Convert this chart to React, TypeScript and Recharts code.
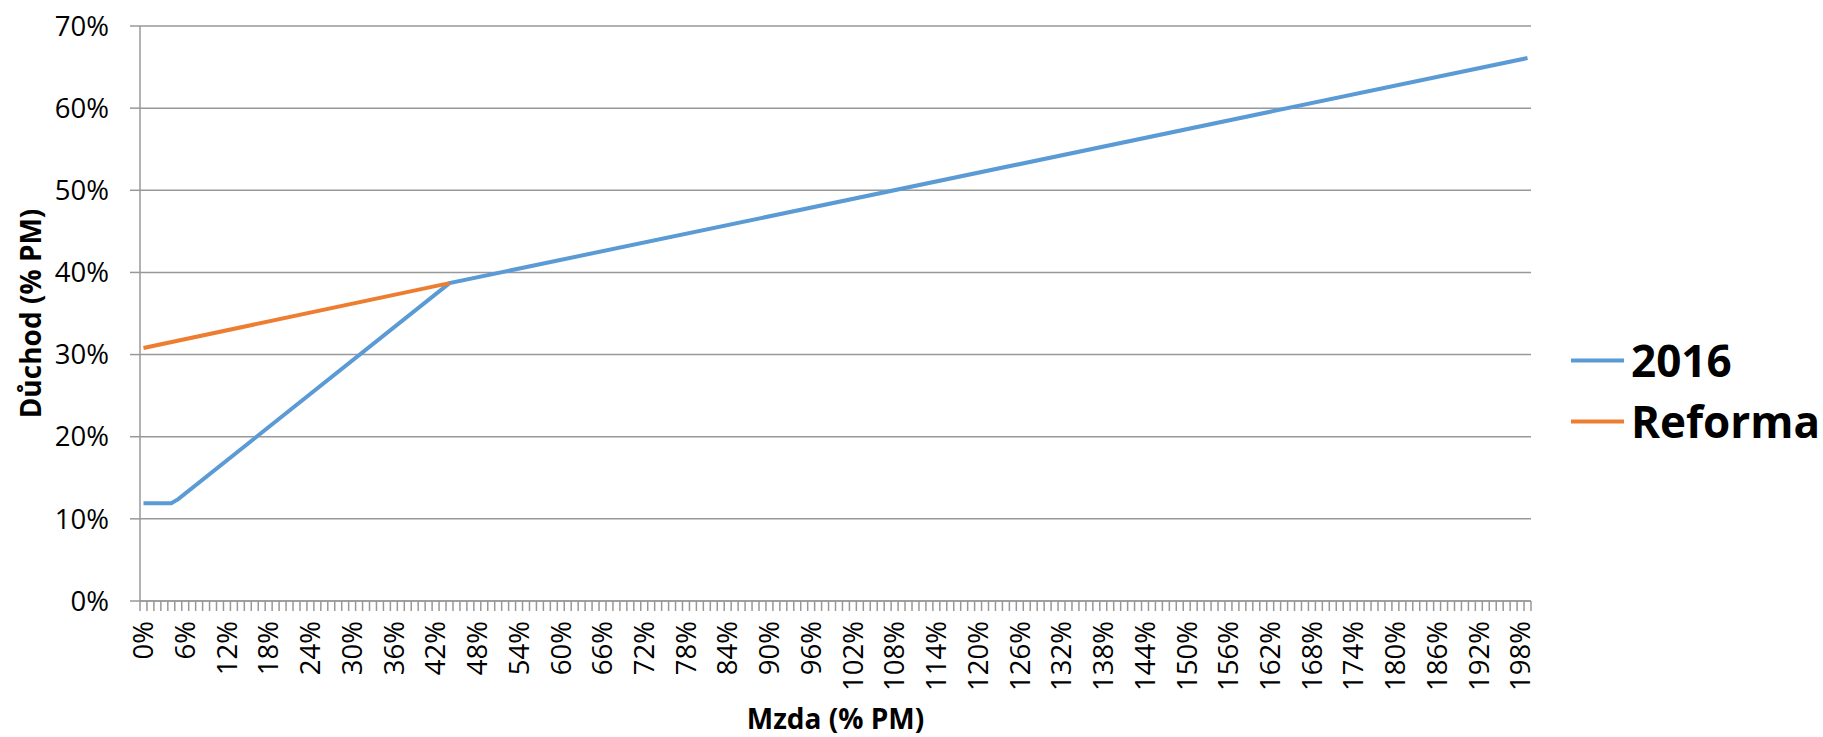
import React from 'react'
import {
  LineChart,
  Line,
  XAxis,
  YAxis,
  CartesianGrid,
  Legend,
} from 'recharts'

// wage (% of average wage) -> pension (% of average wage), read at the kinks
const wage2016 = [0, 4, 5, 44, 199]
const pension2016 = [11.9, 11.9, 12.4, 38.7, 66.1]
const wageReforma = [0, 44]
const pensionReforma = [30.8, 38.7]

const seriesNames = ['2016', 'Reforma']
const xLabelTicks = [
  0, 6, 12, 18, 24, 30, 36, 42, 48, 54, 60, 66, 72, 78, 84, 90, 96, 102, 108,
  114, 120, 126, 132, 138, 144, 150, 156, 162, 168, 174, 180, 186, 192, 198,
]
const yTicks = [0, 10, 20, 30, 40, 50, 60, 70]
const categoryCount = 200

const BLUE = '#5B9BD5'
const ORANGE = '#ED7D31'
const GRID = '#989898'
const FONT = '"Open Sans", sans-serif'

const data2016 = wage2016.map((x, i) => ({ x, y: pension2016[i] }))
const dataReforma = wageReforma.map((x, i) => ({ x, y: pensionReforma[i] }))

// boundaries between categories carry the small tick marks
const boundaryTicks = Array.from({ length: categoryCount + 1 }, (_, i) => i - 0.5)
const allXTicks = [...boundaryTicks, ...xLabelTicks]

function XTick(props: any) {
  const { x, y, payload } = props
  const v = payload.value
  if (!Number.isInteger(v)) {
    return <line x1={x} x2={x} y1={y - 10} y2={y} stroke={GRID} strokeWidth={1.5} />
  }
  return (
    <text
      x={x}
      y={y}
      dx={-10}
      dy={9.8}
      transform={`rotate(-90 ${x} ${y})`}
      textAnchor='end'
      fontFamily={FONT}
      fontSize={27.5}
      fill='#000'
    >
      {v}%
    </text>
  )
}

function LegendBox() {
  const colors = [BLUE, ORANGE]
  return (
    <svg width={290} height={160} style={{ overflow: 'visible', display: 'block' }}>
      {seriesNames.map((name, i) => {
        const cy = 45.5 + i * 61
        return (
          <g key={name}>
            <line x1={40} x2={93} y1={cy} y2={cy} stroke={colors[i]} strokeWidth={4} />
            <text
              x={100}
              y={cy + 16}
              fontFamily={FONT}
              fontWeight='bold'
              fontSize={44}
              fill='#000'
            >
              {name}
            </text>
          </g>
        )
      })}
    </svg>
  )
}

export default function App() {
  return (
    <div style={{ position: 'absolute', left: 0, top: 0 }}>
      <LineChart width={1823} height={737} margin={{ top: 26, right: 0, bottom: 0, left: 0 }}>
        <CartesianGrid vertical={false} stroke={GRID} strokeWidth={1.5} />
        <XAxis
          dataKey='x'
          type='number'
          domain={[-0.5, categoryCount - 0.5]}
          ticks={allXTicks}
          interval={0}
          height={136}
          tickSize={10}
          tickMargin={0}
          tickLine={false}
          tick={<XTick />}
          axisLine={{ stroke: GRID, strokeWidth: 1.5 }}
          allowDataOverflow
          label={{
            content: (p: any) => {
              const vb = p.viewBox
              return (
                <text
                  x={vb.x + vb.width / 2}
                  y={vb.y + vb.height - 8}
                  textAnchor='middle'
                  fontFamily={FONT}
                  fontWeight='bold'
                  fontSize={28}
                  fill='#000'
                >
                  Mzda (% PM)
                </text>
              )
            },
          }}
        />
        <YAxis
          type='number'
          domain={[0, 70]}
          ticks={yTicks}
          interval={0}
          width={140}
          tickSize={10}
          tickMargin={21}
          tickLine={{ stroke: GRID, strokeWidth: 1.5 }}
          axisLine={{ stroke: GRID, strokeWidth: 1.5 }}
          tickFormatter={(v: number) => `${v}%`}
          tick={{ fontFamily: FONT, fontSize: 27.5, fill: '#000' }}
          label={{
            content: (p: any) => {
              const vb = p.viewBox
              const cx = 41
              const cy = vb.y + vb.height / 2
              return (
                <text
                  x={cx}
                  y={cy}
                  transform={`rotate(-90 ${cx} ${cy})`}
                  textAnchor='middle'
                  fontFamily={FONT}
                  fontWeight='bold'
                  fontSize={28}
                  fill='#000'
                >
                  Důchod (% PM)
                </text>
              )
            },
          }}
        />
        <Legend
          layout='vertical'
          align='right'
          verticalAlign='middle'
          content={() => <LegendBox />}
          wrapperStyle={{ width: 292, top: 315, right: 0 }}
        />
        <Line
          data={data2016}
          dataKey='y'
          name={seriesNames[0]}
          type='linear'
          stroke={BLUE}
          strokeWidth={4}
          dot={false}
          activeDot={false}
          isAnimationActive={false}
        />
        <Line
          data={dataReforma}
          dataKey='y'
          name={seriesNames[1]}
          type='linear'
          stroke={ORANGE}
          strokeWidth={4}
          dot={false}
          activeDot={false}
          isAnimationActive={false}
        />
      </LineChart>
    </div>
  )
}
